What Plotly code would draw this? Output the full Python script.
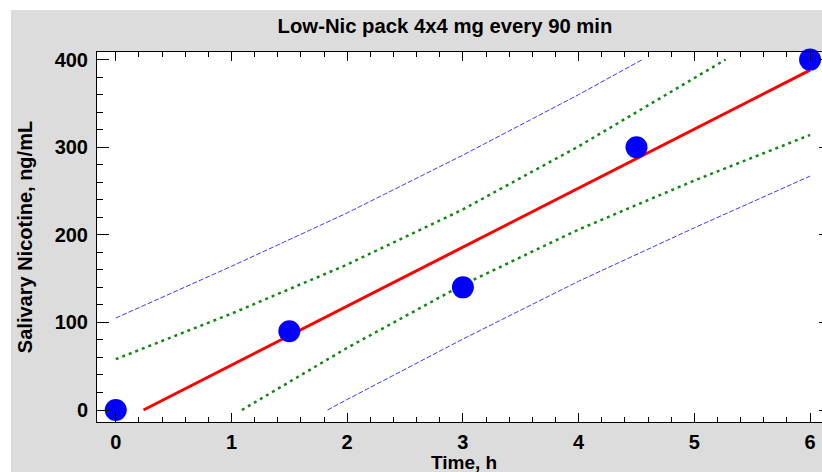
import plotly.graph_objects as go

# Observed data
time_h = [0, 1.5, 3, 4.5, 6]
nicotine = [0, 90, 140, 300, 400]

# Fitted regression line (clipped at y=0)
fit_x = [0.24, 6.0]
fit_y = [0, 388]

# 95% confidence limits (green dotted)
ci_up_x = [0, 1, 2, 3, 4, 5, 5.27]
ci_up_y = [58, 110, 166, 229, 301, 379, 400]
ci_lo_x = [1.09, 2, 3, 4, 5, 6]
ci_lo_y = [0, 71, 143, 206, 262, 314]

# 95% prediction limits (blue dashed)
pi_up_x = [0, 1, 2, 3, 4, 4.55]
pi_up_y = [105, 164, 225, 291, 360, 400]
pi_lo_x = [1.83, 2, 3, 4, 5, 6]
pi_lo_y = [0, 12, 81, 147, 208, 267]

x_ticks = [0, 1, 2, 3, 4, 5, 6]
y_ticks = [0, 100, 200, 300, 400]

FONT = "Liberation Sans, Arial, sans-serif"
GRAY = "#dcdcdc"
FIG_W, FIG_H = 831, 472

fig = go.Figure()
fig.add_trace(go.Scatter(x=pi_up_x, y=pi_up_y, mode="lines",
                         line=dict(color="#3a3aff", width=1, dash="5px,2px")))
fig.add_trace(go.Scatter(x=pi_lo_x, y=pi_lo_y, mode="lines",
                         line=dict(color="#3a3aff", width=1, dash="5px,2px")))
fig.add_trace(go.Scatter(x=ci_up_x, y=ci_up_y, mode="lines",
                         line=dict(color="#118811", width=2.5, dash="3px,4px")))
fig.add_trace(go.Scatter(x=ci_lo_x, y=ci_lo_y, mode="lines",
                         line=dict(color="#118811", width=2.5, dash="3px,4px")))
fig.add_trace(go.Scatter(x=fit_x, y=fit_y, mode="lines",
                         line=dict(color="#ff0000", width=3)))
fig.add_trace(go.Scatter(x=time_h, y=nicotine, mode="markers", cliponaxis=False,
                         marker=dict(color="#0000ff", size=22, line=dict(width=0))))

# white strips at top and left of the gray panel
pw, ph = FIG_W - 97.0, 370.0
fig.add_shape(type="rect", xref="paper", yref="paper", layer="below",
              x0=-0.2, x1=1.2, y0=1 + (52 - 10) / ph, y1=1.3,
              fillcolor="white", line=dict(width=0))
fig.add_shape(type="rect", xref="paper", yref="paper", layer="below",
              x0=-0.3, x1=(11 - 97) / pw, y0=-0.3, y1=1.3,
              fillcolor="white", line=dict(width=0))

# x-axis title near the bottom edge
fig.add_annotation(text="<b>Time, h</b>", xref="paper", yref="paper",
                   x=0.5, y=(422 - 450) / ph, xanchor="center", yanchor="top",
                   showarrow=False, font=dict(family=FONT, size=19, color="black"))

fig.update_layout(
    width=FIG_W, height=FIG_H,
    margin=dict(l=97, r=0, t=52, b=50),
    paper_bgcolor=GRAY, plot_bgcolor="white",
    showlegend=False,
    font=dict(family=FONT, size=20, color="black"),
    title=dict(text="<b>Low-Nic pack 4x4 mg every 90 min</b>",
               x=445 / FIG_W, xanchor="center", xref="container",
               y=1 - 26 / FIG_H, yanchor="middle", yref="container",
               font=dict(family=FONT, size=20.3, color="black")),
    xaxis=dict(range=[-0.162, 6.181], tickvals=x_ticks,
               ticktext=[f"<b>{v}</b>" for v in x_ticks],
               ticks="inside", ticklen=9, tickwidth=1, tickcolor="black",
               minor=dict(dtick=0.2, ticks="inside", ticklen=5, tickcolor="black"),
               showline=True, linecolor="black", linewidth=1, mirror="allticks",
               showgrid=False, zeroline=False, automargin=False,
               ticklabelstandoff=2),
    yaxis=dict(range=[-13.7, 408.7], tickvals=y_ticks,
               ticktext=[f"<b>{v}</b>" for v in y_ticks],
               ticks="inside", ticklen=12, tickwidth=1, tickcolor="black",
               minor=dict(dtick=20, ticks="inside", ticklen=6, tickcolor="black"),
               showline=True, linecolor="black", linewidth=1, mirror="allticks",
               showgrid=False, zeroline=False, automargin=False,
               ticklabelstandoff=4,
               title=dict(text="<b>Salivary Nicotine, ng/mL</b>", standoff=16,
                          font=dict(family=FONT, size=20))),
)

fig.write_html(
    "out.html",
    post_script="document.body.style.margin='0';"
                "document.body.style.overflow='hidden';"
                "document.documentElement.style.overflow='hidden';",
)
